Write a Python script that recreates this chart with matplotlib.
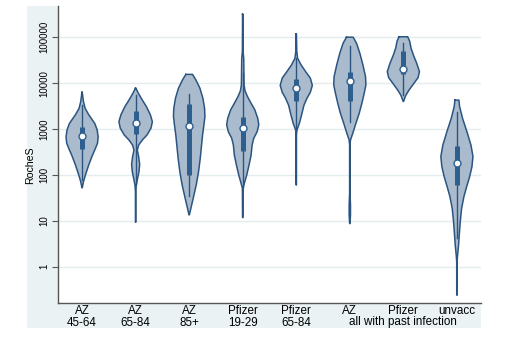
import numpy as np
import matplotlib
matplotlib.use("Agg")
import matplotlib.pyplot as plt
from matplotlib.patches import Rectangle

# ---------------- data ----------------
groups = ["AZ\n45-64", "AZ\n65-84", "AZ\n85+", "Pfizer\n19-29", "Pfizer\n65-84",
          "AZ", "Pfizer", "unvacc"]
shared_label = "all with past infection"
ytick_values = [1, 10, 100, 1000, 10000, 100000]
ytick_labels = ["1", "10", "100", "1000", "10000", "100000"]

# violin outlines: log10(RocheS) levels and relative density (half-width, 0..50)
v1_lev = [3.80, 3.60, 3.45, 3.31, 3.12, 2.98, 2.83, 2.69, 2.58, 2.43, 2.22, 2.00, 1.85, 1.72]
v1_den = [0.5, 4, 9, 20, 38, 45, 48, 46, 40, 31, 20, 10, 4, 0.5]
v2_lev = [3.89, 3.78, 3.63, 3.49, 3.31, 3.16, 3.02, 2.87, 2.76, 2.65, 2.54, 2.40, 2.23, 2.07,
          1.93, 1.78, 1.64, 0.97]
v2_den = [0.5, 8, 20, 32, 44, 50, 46, 34, 20, 9, 5, 9, 12, 10, 6, 2, 0.6, 0.5]
v3_lev = [4.19, 4.07, 3.89, 3.67, 3.45, 3.27, 3.09, 2.87, 2.65, 2.36, 2.07, 1.78, 1.49, 1.27, 1.13]
v3_den = [10, 20, 32, 41, 46, 47, 44, 40, 37, 33, 28, 21, 12, 5, 0.5]
v4_lev = [5.50, 4.69, 4.54, 4.25, 3.96, 3.83, 3.71, 3.56, 3.42, 3.23, 3.09, 2.94, 2.80, 2.65,
          2.43, 2.22, 2.00, 1.82, 1.71, 1.07]
v4_den = [0.5, 1, 3, 3.5, 4, 7, 14, 25, 36, 45, 48, 43, 33, 28, 25, 19, 12, 5, 1, 0.5]
v5_lev = [5.07, 4.69, 4.54, 4.40, 4.25, 4.11, 3.95, 3.80, 3.67, 3.52, 3.31, 3.12, 2.98, 2.87, 1.78]
v5_den = [0.5, 1.5, 4, 14, 28, 42, 48, 42, 32, 23, 16, 9, 2, 0.6, 0.5]
v6_lev = [5.00, 4.87, 4.65, 4.40, 4.14, 3.96, 3.78, 3.56, 3.34, 3.12, 2.91, 2.76, 2.65, 1.60,
          1.34, 1.13, 0.94]
v6_den = [10, 20, 30, 39, 47, 48, 43, 36, 28, 18, 9, 2, 0.6, 0.6, 2, 2, 0.5]
v7_lev = [5.01, 4.91, 4.76, 4.61, 4.43, 4.25, 4.12, 4.00, 3.85, 3.73, 3.60]
v7_den = [13, 19, 23, 30, 40, 48, 44, 32, 17, 7, 0.5]
v8_lev = [3.63, 3.49, 3.23, 2.94, 2.65, 2.40, 2.18, 1.96, 1.74, 1.53, 1.27, 0.98, 0.69, 0.47,
          0.25, 0.11, -0.62]
v8_den = [6, 8, 17, 30, 42, 48, 45, 38, 29, 21, 14, 10, 7, 5, 2, 0.6, 0.5]

levels = [v1_lev, v2_lev, v3_lev, v4_lev, v5_lev, v6_lev, v7_lev, v8_lev]
densities = [v1_den, v2_den, v3_den, v4_den, v5_den, v6_den, v7_den, v8_den]

# box statistics (log10): lower whisker, q1, median, q3, upper whisker
whisk_lo = [1.89, 1.80, 1.55, 1.74, 2.98, 3.16, 3.74, 0.62]
q1 = [2.57, 2.89, 2.00, 2.51, 3.61, 3.61, 4.19, 1.78]
median = [2.85, 3.14, 3.07, 3.03, 3.89, 4.05, 4.31, 2.25]
q3 = [3.04, 3.39, 3.55, 3.26, 4.09, 4.25, 4.70, 2.64]
whisk_hi = [3.52, 3.74, 3.76, 4.22, 4.54, 4.80, 4.87, 3.38]

# ---------------- styling ----------------
W, H = 512, 347
fill_c = "#abbbce"
edge_c = "#2b5580"
box_c = "#2f5f8f"
bg_c = "#eaf2f3"
grid_c = "#e3edef"
plt.rcParams["font.family"] = ["Liberation Sans", "DejaVu Sans"]

fig = plt.figure(figsize=(W / 100, H / 100), dpi=100)
fig.patch.set_facecolor("white")
bg = Rectangle((27 / W, 1 - 328 / H), (481 - 27) / W, (328 - 6) / H,
               transform=fig.transFigure, facecolor=bg_c, edgecolor="none")
bg.set_zorder(-5)
fig.add_artist(bg)

ax = fig.add_axes([58 / W, 1 - 302.5 / H, (481 - 58) / W, (302.5 - 6) / H])
ax.set_zorder(2)
ax.set_facecolor("white")
ax.set_yscale("log")
ax.set_ylim(10 ** -0.78, 10 ** 5.68)
ax.set_xlim(0.55, len(groups) + 0.45)

for yv in ytick_values:
    ax.axhline(yv, color=grid_c, lw=1.0, zorder=1)

scale = 0.30 / 48.0
for i in range(len(groups)):
    pos = i + 1
    lev = np.array(levels[i])
    hw = np.array(densities[i]) * scale
    y = 10 ** lev
    ax.fill_betweenx(y, pos - hw, pos + hw, facecolor=fill_c, edgecolor="none", zorder=2)
    xs = np.concatenate([pos - hw, (pos + hw)[::-1], [pos - hw[0]]])
    ys = np.concatenate([y, y[::-1], [y[0]]])
    ax.plot(xs, ys, color=edge_c, lw=1.1, zorder=3, solid_joinstyle="round")
    ax.plot([pos, pos], [10 ** whisk_lo[i], 10 ** whisk_hi[i]], color=edge_c, lw=1.0, zorder=4)
    ax.plot([pos, pos], [10 ** q1[i], 10 ** q3[i]], color=box_c, lw=3.6, zorder=5,
            solid_capstyle="butt")
    ax.plot([pos], [10 ** median[i]], marker="o", ms=5.0, mfc="white", mec=box_c, mew=1.0,
            zorder=6)

ax.set_yticks(ytick_values)
ax.set_yticklabels(ytick_labels, rotation=90, va="center", fontsize=7.0)
ax.yaxis.set_minor_locator(matplotlib.ticker.NullLocator())
ax.tick_params(axis="y", length=4, width=0.8, color="#555555", pad=2)
ax.set_xticks(np.arange(1, len(groups) + 1))
ax.set_xticklabels(groups, fontsize=8.4, linespacing=1.0)
ax.tick_params(axis="x", length=0, pad=2)

for s in ["top", "right"]:
    ax.spines[s].set_visible(False)
for s in ["left", "bottom"]:
    ax.spines[s].set_color("#555555")
    ax.spines[s].set_linewidth(1.0)

# y-axis title
fig.text(30.5 / W, 1 - 165 / H, "RocheS", rotation=90, ha="center", va="center",
         fontsize=7.6)

# shared second-line label under the last three categories
fig.text(403 / W, 1 - 316.5 / H, shared_label, ha="center", va="top", fontsize=8.4)

fig.savefig("out.png", dpi=100, facecolor="white")
